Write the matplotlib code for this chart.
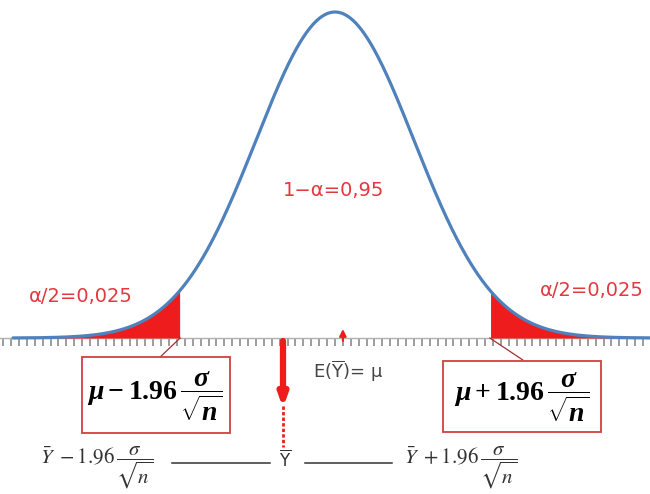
import numpy as np
import matplotlib.pyplot as plt
from matplotlib.patches import Rectangle

plt.rcParams['mathtext.fontset'] = 'custom'
plt.rcParams['mathtext.rm'] = 'Liberation Serif:bold'
plt.rcParams['mathtext.it'] = 'Liberation Serif:bold:italic'
plt.rcParams['mathtext.bf'] = 'Liberation Serif:bold'

# standard normal, cut at the 95% bounds
z_cut = [-1.96, 1.96]
tail_labels = ['α/2=0,025', 'α/2=0,025']
center_label = '1−α=0,95'
tick_step = 0.1
z_mean_mark = 0.1

W, H = 650, 494
# pixel layout of the curve: centre, px per sigma, baseline, peak height
cx, sx, base, peak = 335, 79, 338, 326
sy = peak / (1 / np.sqrt(2 * np.pi))

fig = plt.figure(figsize=(W / 100, H / 100), dpi=100)
ax = fig.add_axes([0, 0, 1, 1])
ax.set_xlim((0 - cx) / sx, (W - cx) / sx)
ax.set_ylim((base - H) / sy, base / sy)
ax.axis('off')

ov = fig.add_axes([0, 0, 1, 1], zorder=5)
ov.set_xlim(0, W)
ov.set_ylim(H, 0)
ov.axis('off')
ov.patch.set_alpha(0)

z = np.linspace((13 - cx) / sx, (W - cx) / sx, 800)
pdf = np.exp(-0.5 * z ** 2) / np.sqrt(2 * np.pi)

red = '#ee1c1c'
blue = '#4f81bd'

# baseline ticks
ticks = np.arange(-4.3, 4.0, tick_step)
tick_len = 8 / sy
ax.vlines(ticks, -tick_len, 0, color='#9c9c9c', lw=1.4, zorder=1)
ax.axhline(0, color='#b0b0b0', lw=1.0, zorder=1)

# rejection tails
ax.fill_between(z, 0, pdf, where=z <= z_cut[0], color=red, lw=0, zorder=2)
ax.fill_between(z, 0, pdf, where=z >= z_cut[1], color=red, lw=0, zorder=2)
ax.plot(z, pdf, color=blue, lw=2.3, zorder=3, solid_capstyle='round')

# small marker at the mean
ax.annotate('', xy=(z_mean_mark, 9 / sy), xytext=(z_mean_mark, -3 / sy),
            arrowprops=dict(arrowstyle='-|>,head_width=0.2,head_length=0.4',
                            color=red, lw=1.5, shrinkA=0, shrinkB=0), zorder=4)

tfont = dict(family='DejaVu Sans', color='#e2383f', fontsize=14)
ov.text(81, 296, tail_labels[0], ha='center', va='center', **tfont)
ov.text(540, 290, tail_labels[1], ha='left', va='center', **tfont)
ov.text(334, 190, center_label, ha='center', va='center', **tfont)

ov.text(313, 371, r'E($\overline{\mathrm{Y}}$)= μ', ha='left', va='center',
        fontsize=13, color='#444444', family='DejaVu Sans',
        math_fontfamily='dejavusans')

# connectors from the cut points to the boxes
zl, zr = z_cut
ax.plot([zl, zl - 20 / sx], [0, -19 / sy], color='#a03030', lw=0.9, zorder=4)
ax.plot([zr, zr + 33 / sx], [0, -22 / sy], color='#a03030', lw=0.9, zorder=4)

box_kw = dict(fill=False, edgecolor='#d04040', lw=1.3)
ov.add_patch(Rectangle((82, 357), 148, 76, **box_kw))
ov.add_patch(Rectangle((443, 361), 158, 71, **box_kw))
ov.text(155, 396, r'$\mu - 1.96\,\dfrac{\sigma}{\sqrt{n}}$', ha='center',
        va='center', fontsize=20, color='black')
ov.text(522, 397, r'$\mu + 1.96\,\dfrac{\sigma}{\sqrt{n}}$', ha='center',
        va='center', fontsize=20, color='black')

# sample mean arrow
ov.annotate('', xy=(283, 408), xytext=(283, 341),
            arrowprops=dict(arrowstyle='-|>,head_width=0.25,head_length=0.7',
                            color=red, lw=4.5, shrinkA=0, shrinkB=0))
ov.plot([283, 283], [406, 447], color=red, lw=2, ls=(0, (1.2, 0.8)))

# interval for the sample mean
bfont = dict(fontsize=15, color='#333333', math_fontfamily='stix')
ov.text(40, 468, r'$\bar{Y}\ -1.96\,\dfrac{\sigma}{\sqrt{n}}$', ha='left',
        va='center', **bfont)
ov.text(404, 468, r'$\bar{Y}\ +1.96\,\dfrac{\sigma}{\sqrt{n}}$', ha='left',
        va='center', **bfont)
ov.plot([172, 270], [463, 463], color='#333333', lw=1.1)
ov.plot([305, 392], [463, 463], color='#333333', lw=1.1)
ov.text(285, 460, r'$\overline{\mathrm{Y}}$', ha='center', va='center',
        fontsize=12, color='#333333', math_fontfamily='dejavusans')

fig.savefig('out.png', dpi=100, facecolor='white')
